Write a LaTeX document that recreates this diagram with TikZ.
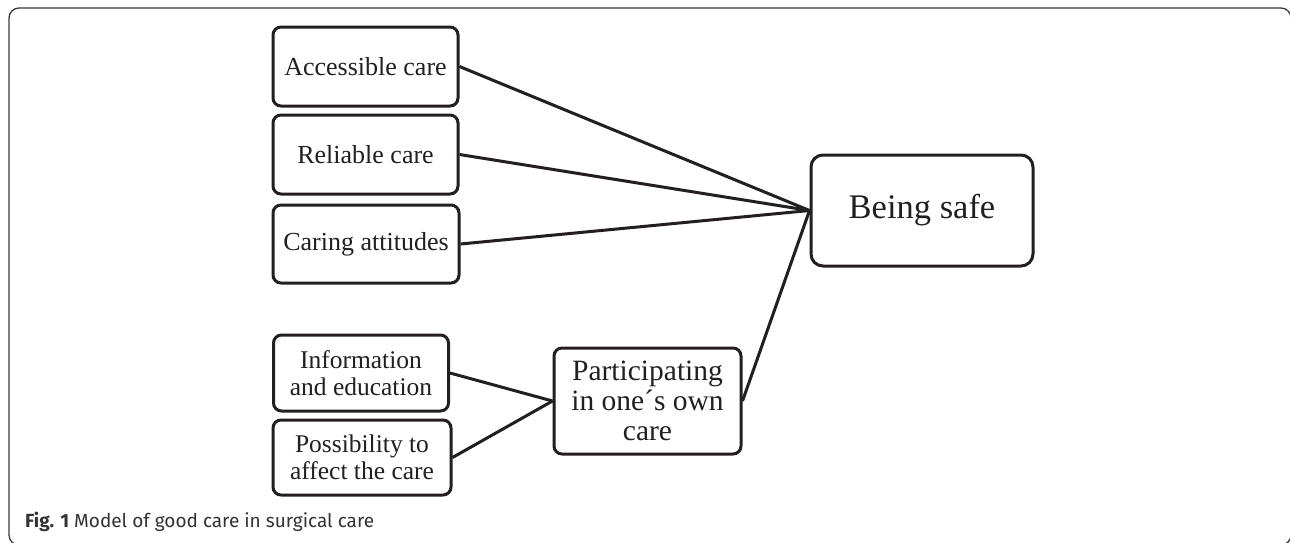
\documentclass[tikz,border=0pt]{standalone}
\usepackage{fontspec}
\setmainfont{Liberation Serif}
\newfontfamily\capfont{Fira Sans}
\definecolor{framegray}{HTML}{3A3A3A}
\definecolor{capgray}{HTML}{333333}
\definecolor{ink}{HTML}{231F20}
\tikzset{
  box/.style={draw=ink, line width=3pt, rounded corners=8pt, fill=white, align=center, inner sep=0pt, text=ink},
  conn/.style={draw=ink, line width=3pt},
}
\begin{document}
\begin{tikzpicture}[x=1pt,y=-1pt]
\useasboundingbox (0,0) rectangle (1290,542);
\clip (0,0) rectangle (1290,542);
\fill[white] (0,0) rectangle (1290,542);
\draw[framegray, line width=1.3pt, rounded corners=10pt] (9,8) rectangle (1291,545);

\node[box, minimum width=185pt, minimum height=79pt, font=\fontsize{26}{27}\selectfont] (acc) at (365.5,66.5) {Accessible care};
\node[box, minimum width=185pt, minimum height=79pt, font=\fontsize{26}{27}\selectfont] (rel) at (365.5,154.5) {Reliable care};
\node[box, minimum width=186pt, minimum height=78pt, font=\fontsize{26}{27}\selectfont] (car) at (366,244) {Caring attitudes};
\node[box, minimum width=175pt, minimum height=76pt, font=\fontsize{25.5}{26.5}\selectfont] (info) at (361,373) {Information\\and education};
\node[box, minimum width=178pt, minimum height=75pt, font=\fontsize{25.5}{26.5}\selectfont] (poss) at (362,457.5) {Possibility to\\affect the care};
\node[box, minimum width=187pt, minimum height=106pt, font=\fontsize{29.5}{30}\selectfont] (part) at (647.5,401) {Participating\\in one´s own\\care};
\node[box, rounded corners=12pt, minimum width=222pt, minimum height=111pt, font=\fontsize{34.5}{36}\selectfont] (safe) at (922,210.5) {Being safe};

\draw[conn] (acc.east) -- (safe.west);
\draw[conn] (rel.east) -- (safe.west);
\draw[conn] (car.east) -- (safe.west);
\draw[conn] (part.east) -- (safe.west);
\draw[conn] (info.east) -- (part.west);
\draw[conn] (poss.east) -- (part.west);

\node[anchor=base west, inner sep=0pt, text=capgray, font=\capfont\fontsize{19}{21}\selectfont] (cap) at (25,527) {\textbf{Fig. 1} Model of good care in surgical care};
\end{tikzpicture}
\end{document}
